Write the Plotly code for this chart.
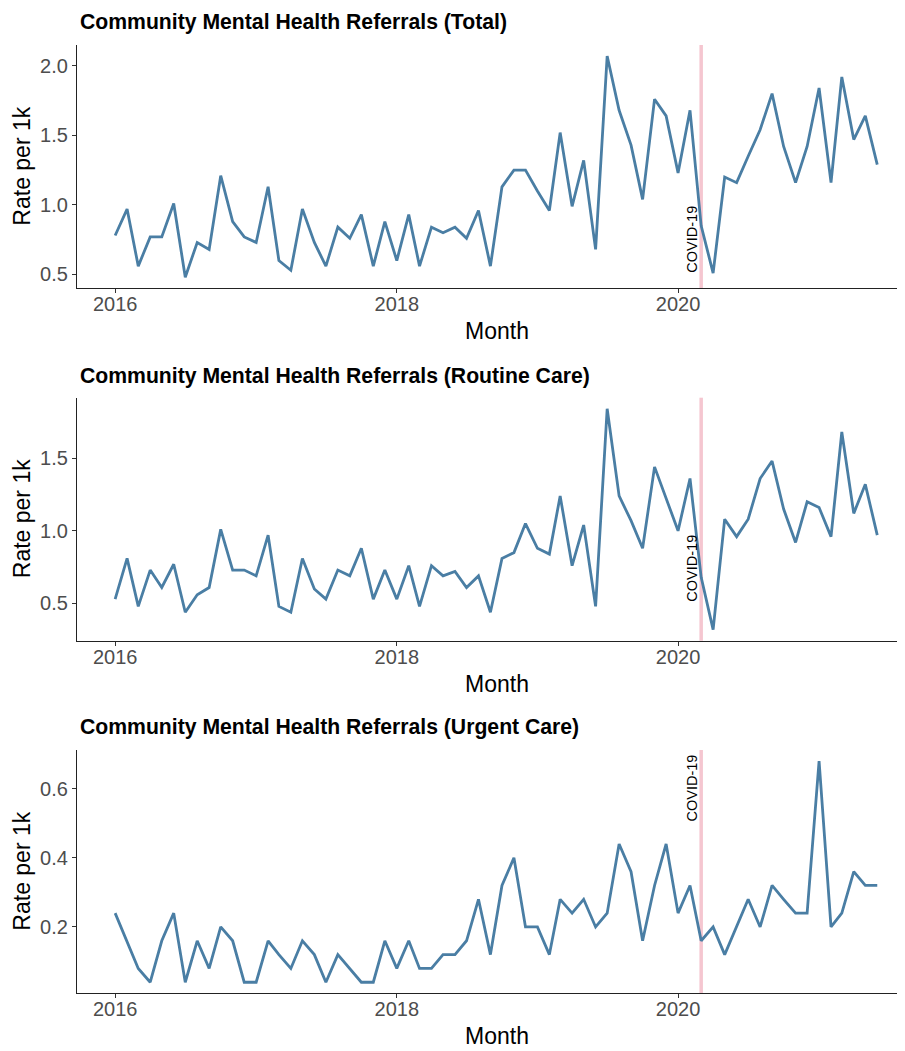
import pandas as pd
import plotly.graph_objects as go

# ---------------- data ----------------
months = pd.date_range("2016-01-01", periods=66, freq="MS").strftime("%Y-%m-%d").tolist()

total = [0.78, 0.97, 0.56, 0.77, 0.77, 1.01, 0.48, 0.73, 0.68, 1.21, 0.88, 0.77,
         0.73, 1.13, 0.60, 0.53, 0.97, 0.73, 0.56, 0.84, 0.76, 0.93, 0.56, 0.88,
         0.60, 0.93, 0.56, 0.84, 0.80, 0.84, 0.76, 0.96, 0.56, 1.13, 1.25, 1.25,
         1.10, 0.96, 1.52, 0.99, 1.32, 0.68, 2.07, 1.68, 1.43, 1.04, 1.76, 1.64,
         1.23, 1.68, 0.85, 0.51, 1.20, 1.16, 1.35, 1.54, 1.80, 1.42, 1.16, 1.42,
         1.84, 1.16, 1.92, 1.47, 1.64, 1.29]

routine = [0.53, 0.81, 0.48, 0.73, 0.61, 0.77, 0.44, 0.56, 0.61, 1.01, 0.73, 0.73,
           0.69, 0.97, 0.48, 0.44, 0.81, 0.60, 0.53, 0.73, 0.69, 0.88, 0.53, 0.73,
           0.53, 0.76, 0.48, 0.76, 0.69, 0.72, 0.61, 0.69, 0.44, 0.81, 0.85, 1.05,
           0.88, 0.84, 1.24, 0.76, 1.04, 0.48, 1.84, 1.24, 1.07, 0.88, 1.44, 1.22,
           1.00, 1.36, 0.68, 0.32, 1.08, 0.96, 1.08, 1.36, 1.48, 1.15, 0.92, 1.20,
           1.16, 0.96, 1.68, 1.12, 1.32, 0.97]

urgent = [0.24, 0.16, 0.08, 0.04, 0.16, 0.24, 0.04, 0.16, 0.08, 0.20, 0.16, 0.04,
          0.04, 0.16, 0.12, 0.08, 0.16, 0.12, 0.04, 0.12, 0.08, 0.04, 0.04, 0.16,
          0.08, 0.16, 0.08, 0.08, 0.12, 0.12, 0.16, 0.28, 0.12, 0.32, 0.40, 0.20,
          0.20, 0.12, 0.28, 0.24, 0.28, 0.20, 0.24, 0.44, 0.36, 0.16, 0.32, 0.44,
          0.24, 0.32, 0.16, 0.20, 0.12, 0.20, 0.28, 0.20, 0.32, 0.28, 0.24, 0.24,
          0.68, 0.20, 0.24, 0.36, 0.32, 0.32]

titles = ["Community Mental Health Referrals (Total)",
          "Community Mental Health Referrals (Routine Care)",
          "Community Mental Health Referrals (Urgent Care)"]
series = [total, routine, urgent]
y_dticks = [0.5, 0.5, 0.2]
covid_date = "2020-03-01"
covid_label = "COVID-19"
covid_label_y = 0.5
x_title = "Month"
y_title = "Rate per 1k"

# ---------------- layout helpers ----------------
OFF = 8                      # page body margin
W, H = 905 - OFF, 1051 - OFF
ML = 77 - OFF
PW = W - ML


def py(ypx_ref):
    return (H - (ypx_ref - OFF)) / H


def pxx(xpx_ref):
    return ((xpx_ref - OFF) - ML) / PW


panels_px = [(45, 288.3), (397.7, 640.7), (750, 993.3)]   # top, bottom of each plot area (reference px)
title_y = [22, 376, 727]
month_y = [331, 684, 1036]

LINE_COL = "#4a7ea4"
FONT = "Liberation Sans, Arial, sans-serif"

fig = go.Figure()

for k, (vals, ttl) in enumerate(zip(series, titles)):
    n = k + 1
    xa = "x" if n == 1 else f"x{n}"
    ya = "y" if n == 1 else f"y{n}"
    fig.add_trace(go.Scatter(x=months, y=vals, mode="lines",
                             line=dict(color=LINE_COL, width=2.8),
                             xaxis=xa, yaxis=ya, showlegend=False))
    top, bot = panels_px[k]
    lo, hi = min(vals), max(vals)
    pad = (hi - lo) * 0.05
    xkey = "xaxis" if n == 1 else f"xaxis{n}"
    ykey = "yaxis" if n == 1 else f"yaxis{n}"
    fig.layout[xkey] = dict(
        domain=[0, 1], anchor=ya, type="date",
        range=["2015-09-24", "2021-08-12"],
        tick0="2016-01-01", dtick="M24", tickformat="%Y",
        showgrid=False, zeroline=False,
        showline=True, linecolor="#222222", linewidth=1.2,
        ticks="outside", ticklen=4, tickcolor="#333333", tickwidth=1,
        ticklabelstandoff=-6,
        tickfont=dict(family=FONT, size=20, color="#4d4d4d"),
        automargin=False,
    )
    fig.layout[ykey] = dict(
        domain=[py(bot), py(top)], anchor=xa,
        range=[lo - pad, hi + pad],
        tick0=0, dtick=y_dticks[k], tickformat=".1f",
        showgrid=False, zeroline=False,
        showline=True, linecolor="#222222", linewidth=1.2,
        ticks="outside", ticklen=4, tickcolor="#333333", tickwidth=1,
        tickfont=dict(family=FONT, size=20, color="#4d4d4d"),
        automargin=False,
    )
    # COVID line
    fig.add_shape(type="line", xref=xa, yref=f"{ya} domain",
                  x0=covid_date, x1=covid_date, y0=0, y1=1,
                  line=dict(color="#f5c6d0", width=3.5), layer="below")
    fig.add_annotation(xref=xa, yref=ya, x=covid_date, y=covid_label_y,
                       text=covid_label, textangle=-90, showarrow=False,
                       xanchor="center", yanchor="bottom", xshift=-9.5,
                       font=dict(family=FONT, size=14.5, color="black"))
    # panel title
    fig.add_annotation(xref="paper", yref="paper", x=pxx(78), y=py(title_y[k]),
                       text=f"<b>{ttl}</b>", showarrow=False,
                       xanchor="left", yanchor="middle",
                       font=dict(family=FONT, size=21.2, color="black"))
    # axis titles
    fig.add_annotation(xref="paper", yref="paper", x=pxx(496.7), y=py(month_y[k]),
                       text=x_title, showarrow=False, xanchor="center", yanchor="middle",
                       font=dict(family=FONT, size=23, color="black"))
    fig.add_annotation(xref="paper", yref="paper", x=pxx(22), y=py((top + bot) / 2),
                       text=y_title, showarrow=False, textangle=-90,
                       xanchor="center", yanchor="middle",
                       font=dict(family=FONT, size=23, color="black"))

fig.update_layout(width=W, height=H,
                  margin=dict(l=ML, r=0, t=0, b=0),
                  plot_bgcolor="white", paper_bgcolor="white",
                  showlegend=False)

fig.write_html("out.html")
